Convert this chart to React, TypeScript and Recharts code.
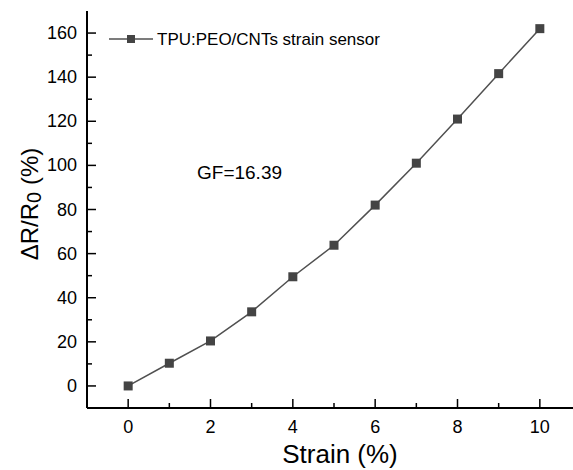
import React from 'react';
import { LineChart, Line, XAxis, YAxis } from 'recharts';

const strain = [0, 1, 2, 3, 4, 5, 6, 7, 8, 9, 10];
const response = [0, 10.3, 20.4, 33.6, 49.5, 63.8, 82, 101, 121, 141.6, 162];
const xTicks = [0, 1, 2, 3, 4, 5, 6, 7, 8, 9, 10];
const yTicks = [0, 10, 20, 30, 40, 50, 60, 70, 80, 90, 100, 110, 120, 130, 140, 150, 160];
const seriesName = 'TPU:PEO/CNTs strain sensor';
const gfText = 'GF=16.39';

const data = strain.map((s, i) => ({ strain: s, r: response[i] }));

const FONT = '"Liberation Sans", Arial, sans-serif';
const LINE_COLOR = '#505050';

const XTick = (props: any) => {
  const { x, y, payload } = props;
  const major = payload.value % 2 === 0;
  return (
    <g>
      <line x1={x} x2={x} y1={y} y2={y - (major ? 9 : 5)} stroke="#000" strokeWidth={1.5} />
      {major && (
        <text x={x} y={y + 25} textAnchor="middle" fontSize={18} fontFamily={FONT} fill="#000">
          {payload.value}
        </text>
      )}
    </g>
  );
};

const YTick = (props: any) => {
  const { x, y, payload } = props;
  const major = payload.value % 20 === 0;
  return (
    <g>
      <line x1={x} x2={x + (major ? 9 : 5)} y1={y} y2={y} stroke="#000" strokeWidth={1.5} />
      {major && (
        <text x={x - 10} y={y + 6} textAnchor="end" fontSize={18} fontFamily={FONT} fill="#000">
          {payload.value}
        </text>
      )}
    </g>
  );
};

const SquareDot = (props: any) => {
  const { cx, cy } = props;
  return <rect x={cx - 4.5} y={cy - 4.5} width={9} height={9} fill="#444" />;
};

export default function App() {
  return (
    <div
      style={{
        position: 'fixed',
        left: 0,
        top: 0,
        width: 573,
        height: 470,
        overflow: 'hidden',
        background: '#fff',
      }}
    >
      <LineChart
        width={600}
        height={470}
        data={data}
        margin={{ top: 11, right: 19, bottom: 0, left: 0 }}
      >
        <XAxis
          dataKey="strain"
          type="number"
          domain={[-1, 11]}
          ticks={xTicks}
          tick={<XTick />}
          tickLine={false}
          tickSize={0}
          tickMargin={0}
          height={62}
          axisLine={{ stroke: '#000', strokeWidth: 2 }}
          interval={0}
        />
        <XAxis
          xAxisId="top"
          orientation="top"
          dataKey="strain"
          type="number"
          domain={[-1, 11]}
          tick={false}
          tickLine={false}
          height={0}
          axisLine={{ stroke: '#000', strokeWidth: 2 }}
        />
        <YAxis
          type="number"
          domain={[-10, 170]}
          ticks={yTicks}
          tick={<YTick />}
          tickLine={false}
          tickSize={0}
          tickMargin={0}
          width={87}
          axisLine={{ stroke: '#000', strokeWidth: 2 }}
          interval={0}
          allowDataOverflow
        />
        <Line
          dataKey="r"
          stroke={LINE_COLOR}
          strokeWidth={1.5}
          dot={<SquareDot />}
          activeDot={false}
          isAnimationActive={false}
          type="linear"
        />
        {/* legend */}
        <line x1={109} x2={153} y1={39} y2={39} stroke={LINE_COLOR} strokeWidth={1.5} />
        <rect x={127} y={35} width={8} height={8} fill="#444" />
        <text x={157} y={45} fontSize={17} fontFamily={FONT} fill="#000">{seriesName}</text>
        <text x={197} y={179} fontSize={19} fontFamily={FONT} fill="#000">{gfText}</text>
        <text x={340} y={463} textAnchor="middle" fontSize={26} fontFamily={FONT} fill="#000">Strain (%)</text>
        <text
          x={38}
          y={204}
          textAnchor="middle"
          fontSize={24}
          fontFamily={FONT}
          fill="#000"
          transform="rotate(-90 38 204)"
        >
          ΔR/R<tspan fontSize={20} dy={3}>0</tspan><tspan dy={-3}> (%)</tspan>
        </text>
      </LineChart>
    </div>
  );
}
